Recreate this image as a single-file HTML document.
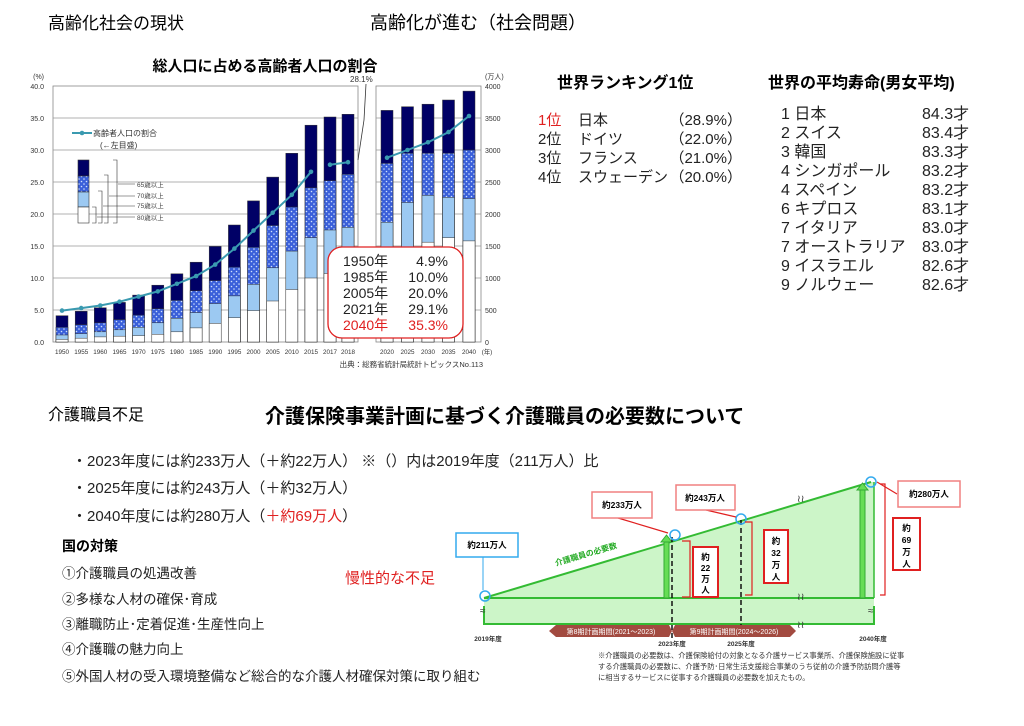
<!DOCTYPE html>
<html><head><meta charset="utf-8"><style>
body{margin:0;background:#fff}
svg{display:block}
text{font-family:"Liberation Sans","Noto Sans CJK JP",sans-serif}
</style></head><body>
<svg width="1024" height="726" viewBox="0 0 1024 726" xmlns="http://www.w3.org/2000/svg">
<defs>
<pattern id="dots" width="5" height="5" patternUnits="userSpaceOnUse"><rect width="5" height="5" fill="#3a5fd9"/><circle cx="1.5" cy="1.5" r="0.8" fill="#cfe0ff"/><circle cx="4" cy="4" r="0.8" fill="#cfe0ff"/></pattern>
</defs>
<text x="48" y="29" font-size="17">高齢化社会の現状</text>
<text x="370" y="29" font-size="18">高齢化が進む（社会問題）</text>
<text x="265" y="71" font-size="15" font-weight="bold" text-anchor="middle">総人口に占める高齢者人口の割合</text>

<g stroke="#888" stroke-width="0.8" fill="none">
<rect x="53" y="86" width="305" height="256"/>
<rect x="376" y="86" width="105" height="256"/>
</g>
<g stroke="#999" stroke-width="0.7">
<line x1="53" y1="118" x2="358" y2="118"/><line x1="376" y1="118" x2="481" y2="118"/>
<line x1="53" y1="150" x2="358" y2="150"/><line x1="376" y1="150" x2="481" y2="150"/>
<line x1="53" y1="182" x2="358" y2="182"/><line x1="376" y1="182" x2="481" y2="182"/>
<line x1="53" y1="214" x2="358" y2="214"/><line x1="376" y1="214" x2="481" y2="214"/>
<line x1="53" y1="246" x2="358" y2="246"/><line x1="376" y1="246" x2="481" y2="246"/>
<line x1="53" y1="278" x2="358" y2="278"/><line x1="376" y1="278" x2="481" y2="278"/>
<line x1="53" y1="310" x2="358" y2="310"/><line x1="376" y1="310" x2="481" y2="310"/>
</g>
<g font-size="7" fill="#333" text-anchor="end">
<text x="44" y="79">(%)</text>
<text x="44" y="89">40.0</text><text x="44" y="121">35.0</text><text x="44" y="153">30.0</text><text x="44" y="185">25.0</text><text x="44" y="217">20.0</text><text x="44" y="249">15.0</text><text x="44" y="281">10.0</text><text x="44" y="313">5.0</text><text x="44" y="345">0.0</text>
</g>
<g font-size="7" fill="#333">
<text x="485" y="79">(万人)</text>
<text x="485" y="89">4000</text><text x="485" y="121">3500</text><text x="485" y="153">3000</text><text x="485" y="185">2500</text><text x="485" y="217">2000</text><text x="485" y="249">1500</text><text x="485" y="281">1000</text><text x="485" y="313">500</text><text x="485" y="345">0</text>
</g>
<g stroke="#333" stroke-width="0.5">
<rect x="56" y="315.7" width="12" height="26.3" fill="#000066"/><rect x="56" y="327.3" width="12" height="14.7" fill="url(#dots)"/><rect x="56" y="335" width="12" height="7" fill="#9cc9f2"/><rect x="56" y="339.4" width="12" height="2.6" fill="#fff"/>
<rect x="75.2" y="311.3" width="12" height="30.7" fill="#000066"/><rect x="75.2" y="324.7" width="12" height="17.3" fill="url(#dots)"/><rect x="75.2" y="333.7" width="12" height="8.3" fill="#9cc9f2"/><rect x="75.2" y="338.2" width="12" height="3.8" fill="#fff"/>
<rect x="94.3" y="307.8" width="12" height="34.2" fill="#000066"/><rect x="94.3" y="322.8" width="12" height="19.2" fill="url(#dots)"/><rect x="94.3" y="331.8" width="12" height="10.2" fill="#9cc9f2"/><rect x="94.3" y="336.9" width="12" height="5.1" fill="#fff"/>
<rect x="113.5" y="302.4" width="12" height="39.6" fill="#000066"/><rect x="113.5" y="319.6" width="12" height="22.4" fill="url(#dots)"/><rect x="113.5" y="329.8" width="12" height="12.2" fill="#9cc9f2"/><rect x="113.5" y="336.2" width="12" height="5.8" fill="#fff"/>
<rect x="132.6" y="295.1" width="12" height="46.9" fill="#000066"/><rect x="132.6" y="315.1" width="12" height="26.9" fill="url(#dots)"/><rect x="132.6" y="327.3" width="12" height="14.7" fill="#9cc9f2"/><rect x="132.6" y="335.6" width="12" height="6.4" fill="#fff"/>
<rect x="151.8" y="285.2" width="12" height="56.8" fill="#000066"/><rect x="151.8" y="308.7" width="12" height="33.3" fill="url(#dots)"/><rect x="151.8" y="322.8" width="12" height="19.2" fill="#9cc9f2"/><rect x="151.8" y="334.3" width="12" height="7.7" fill="#fff"/>
<rect x="170.9" y="273.8" width="12" height="68.2" fill="#000066"/><rect x="170.9" y="300.4" width="12" height="41.6" fill="url(#dots)"/><rect x="170.9" y="318.3" width="12" height="23.7" fill="#9cc9f2"/><rect x="170.9" y="331.8" width="12" height="10.2" fill="#fff"/>
<rect x="190.1" y="262.2" width="12" height="79.8" fill="#000066"/><rect x="190.1" y="290.8" width="12" height="51.2" fill="url(#dots)"/><rect x="190.1" y="312.6" width="12" height="29.4" fill="#9cc9f2"/><rect x="190.1" y="327.9" width="12" height="14.1" fill="#fff"/>
<rect x="209.2" y="246.4" width="12" height="95.6" fill="#000066"/><rect x="209.2" y="280.6" width="12" height="61.4" fill="url(#dots)"/><rect x="209.2" y="303.6" width="12" height="38.4" fill="#9cc9f2"/><rect x="209.2" y="323.4" width="12" height="18.6" fill="#fff"/>
<rect x="228.4" y="225" width="12" height="117" fill="#000066"/><rect x="228.4" y="267.1" width="12" height="74.9" fill="url(#dots)"/><rect x="228.4" y="295.9" width="12" height="46.1" fill="#9cc9f2"/><rect x="228.4" y="317.7" width="12" height="24.3" fill="#fff"/>
<rect x="247.5" y="200.9" width="12" height="141.1" fill="#000066"/><rect x="247.5" y="247.3" width="12" height="94.7" fill="url(#dots)"/><rect x="247.5" y="284.4" width="12" height="57.6" fill="#9cc9f2"/><rect x="247.5" y="310.6" width="12" height="31.4" fill="#fff"/>
<rect x="266.7" y="177.1" width="12" height="164.9" fill="#000066"/><rect x="266.7" y="225.5" width="12" height="116.5" fill="url(#dots)"/><rect x="266.7" y="267.8" width="12" height="74.2" fill="#9cc9f2"/><rect x="266.7" y="301" width="12" height="41" fill="#fff"/>
<rect x="285.8" y="153.3" width="12" height="188.7" fill="#000066"/><rect x="285.8" y="207" width="12" height="135" fill="url(#dots)"/><rect x="285.8" y="251.1" width="12" height="90.9" fill="#9cc9f2"/><rect x="285.8" y="289.5" width="12" height="52.5" fill="#fff"/>
<rect x="305" y="125.2" width="12" height="216.8" fill="#000066"/><rect x="305" y="187.8" width="12" height="154.2" fill="url(#dots)"/><rect x="305" y="237.7" width="12" height="104.3" fill="#9cc9f2"/><rect x="305" y="278" width="12" height="64" fill="#fff"/>
<rect x="324" y="117" width="12" height="225" fill="#000066"/><rect x="324" y="180.7" width="12" height="161.3" fill="url(#dots)"/><rect x="324" y="230" width="12" height="112" fill="#9cc9f2"/><rect x="324" y="273.5" width="12" height="68.5" fill="#fff"/>
<rect x="342" y="114.3" width="12" height="227.7" fill="#000066"/><rect x="342" y="174.3" width="12" height="167.7" fill="url(#dots)"/><rect x="342" y="227.4" width="12" height="114.6" fill="#9cc9f2"/><rect x="342" y="271.6" width="12" height="70.4" fill="#fff"/>
<rect x="381" y="110.4" width="12" height="231.6" fill="#000066"/><rect x="381" y="163.4" width="12" height="178.6" fill="url(#dots)"/><rect x="381" y="222.3" width="12" height="119.7" fill="#9cc9f2"/><rect x="381" y="267.8" width="12" height="74.2" fill="#fff"/>
<rect x="401.5" y="106.7" width="12" height="235.3" fill="#000066"/><rect x="401.5" y="153.2" width="12" height="188.8" fill="url(#dots)"/><rect x="401.5" y="202.5" width="12" height="139.5" fill="#9cc9f2"/><rect x="401.5" y="258.8" width="12" height="83.2" fill="#fff"/>
<rect x="422" y="104.2" width="12" height="237.8" fill="#000066"/><rect x="422" y="153.2" width="12" height="188.8" fill="url(#dots)"/><rect x="422" y="195.4" width="12" height="146.6" fill="#9cc9f2"/><rect x="422" y="242.2" width="12" height="99.8" fill="#fff"/>
<rect x="442.5" y="100" width="12" height="242" fill="#000066"/><rect x="442.5" y="153.2" width="12" height="188.8" fill="url(#dots)"/><rect x="442.5" y="197.4" width="12" height="144.6" fill="#9cc9f2"/><rect x="442.5" y="237.7" width="12" height="104.3" fill="#fff"/>
<rect x="463" y="91.1" width="12" height="250.9" fill="#000066"/><rect x="463" y="150" width="12" height="192" fill="url(#dots)"/><rect x="463" y="198.6" width="12" height="143.4" fill="#9cc9f2"/><rect x="463" y="240.9" width="12" height="101.1" fill="#fff"/>
</g>
<g stroke="#3a9ab0" stroke-width="2" fill="none">
<polyline points="62,310.6 81.2,308.1 100.3,305.5 119.5,301.7 138.6,296.6 157.8,291.4 176.9,283.8 196.1,276.1 215.2,264.6 234.4,248.6 253.5,230.6 272.7,212.7 291.8,194.8 311,171.8"/>
<polyline points="330,164.7 348,162.2"/>
<polyline points="387,157.7 407.5,150 428,142.3 448.5,132.1 469,116"/>
</g>
<g fill="#3a9ab0">
<circle cx="62" cy="310.6" r="2.3"/><circle cx="81.2" cy="308.1" r="2.3"/><circle cx="100.3" cy="305.5" r="2.3"/><circle cx="119.5" cy="301.7" r="2.3"/><circle cx="138.6" cy="296.6" r="2.3"/><circle cx="157.8" cy="291.4" r="2.3"/><circle cx="176.9" cy="283.8" r="2.3"/><circle cx="196.1" cy="276.1" r="2.3"/><circle cx="215.2" cy="264.6" r="2.3"/><circle cx="234.4" cy="248.6" r="2.3"/><circle cx="253.5" cy="230.6" r="2.3"/><circle cx="272.7" cy="212.7" r="2.3"/><circle cx="291.8" cy="194.8" r="2.3"/><circle cx="311" cy="171.8" r="2.3"/><circle cx="330" cy="164.7" r="2.3"/><circle cx="348" cy="162.2" r="2.3"/><circle cx="387" cy="157.7" r="2.3"/><circle cx="407.5" cy="150" r="2.3"/><circle cx="428" cy="142.3" r="2.3"/><circle cx="448.5" cy="132.1" r="2.3"/><circle cx="469" cy="116" r="2.3"/>
</g>
<text x="350" y="82" font-size="8" fill="#333">28.1%</text>
<polyline points="366,84 364,120 358,160" stroke="#333" stroke-width="0.8" fill="none"/>
<line x1="72" y1="133" x2="92" y2="133" stroke="#3a9ab0" stroke-width="2"/><circle cx="82" cy="133" r="2.3" fill="#3a9ab0"/>
<text x="93" y="136" font-size="8" fill="#333">高齢者人口の割合</text>
<text x="100" y="148" font-size="8" fill="#333">(←左目盛)</text>
<g stroke="#333" stroke-width="0.6">
<rect x="78" y="160" width="11" height="16" fill="#000066"/><rect x="78" y="176" width="11" height="16" fill="url(#dots)"/><rect x="78" y="192" width="11" height="15" fill="#9cc9f2"/><rect x="78" y="207" width="11" height="16" fill="#fff"/>
<polyline points="113,160 117,160 117,223 113,223" fill="none"/>
<polyline points="104,175 108,175 108,223 104,223" fill="none"/>
<polyline points="98,191 102,191 102,223 98,223" fill="none"/>
<polyline points="92,207 96,207 96,223 92,223" fill="none"/>
<line x1="118" y1="184" x2="135" y2="184"/><line x1="109" y1="196" x2="135" y2="196"/><line x1="103" y1="206" x2="135" y2="206"/><line x1="97" y1="217" x2="135" y2="217"/>
</g>
<g font-size="6.5" fill="#444"><text x="137" y="187">65歳以上</text><text x="137" y="198">70歳以上</text><text x="137" y="208">75歳以上</text><text x="137" y="220">80歳以上</text></g>
<g font-size="6.3" fill="#333" text-anchor="middle">
<text x="62" y="354">1950</text><text x="81.2" y="354">1955</text><text x="100.3" y="354">1960</text><text x="119.5" y="354">1965</text><text x="138.6" y="354">1970</text><text x="157.8" y="354">1975</text><text x="176.9" y="354">1980</text><text x="196.1" y="354">1985</text><text x="215.2" y="354">1990</text><text x="234.4" y="354">1995</text><text x="253.5" y="354">2000</text><text x="272.7" y="354">2005</text><text x="291.8" y="354">2010</text><text x="311" y="354">2015</text><text x="330" y="354">2017</text><text x="348" y="354">2018</text>
<text x="387" y="354">2020</text><text x="407.5" y="354">2025</text><text x="428" y="354">2030</text><text x="448.5" y="354">2035</text><text x="469" y="354">2040</text><text x="487" y="354">(年)</text>
</g>
<text x="483" y="367" font-size="7.5" fill="#333" text-anchor="end">出典：総務省統計局統計トピックスNo.113</text>
<rect x="328" y="247" width="135" height="91" rx="14" fill="#fff" stroke="#e02020" stroke-width="1.3"/>
<g font-size="14" fill="#222">
<text x="343" y="266">1950年</text><text x="448" y="266" text-anchor="end">4.9%</text>
<text x="343" y="282">1985年</text><text x="448" y="282" text-anchor="end">10.0%</text>
<text x="343" y="298">2005年</text><text x="448" y="298" text-anchor="end">20.0%</text>
<text x="343" y="314">2021年</text><text x="448" y="314" text-anchor="end">29.1%</text>
<text x="343" y="330" fill="#e02020">2040年</text><text x="448" y="330" text-anchor="end" fill="#e02020">35.3%</text>
</g>

<text x="557" y="88" font-size="16" font-weight="bold">世界ランキング1位</text>
<g font-size="15" fill="#222">
<text x="538" y="125" fill="#e02020">1位</text><text x="578" y="125">日本</text><text x="742" y="125" text-anchor="end">（28.9%）</text>
<text x="538" y="144">2位</text><text x="578" y="144">ドイツ</text><text x="742" y="144" text-anchor="end">（22.0%）</text>
<text x="538" y="163">3位</text><text x="578" y="163">フランス</text><text x="742" y="163" text-anchor="end">（21.0%）</text>
<text x="538" y="182">4位</text><text x="578" y="182">スウェーデン</text><text x="742" y="182" text-anchor="end">（20.0%）</text>
</g>
<text x="768" y="88" font-size="16" font-weight="bold">世界の平均寿命(男女平均)</text>
<g font-size="16" fill="#222">
<text x="781" y="119">1 日本</text><text x="922" y="119">84.3才</text>
<text x="781" y="138">2 スイス</text><text x="922" y="138">83.4才</text>
<text x="781" y="157">3 韓国</text><text x="922" y="157">83.3才</text>
<text x="781" y="176">4 シンガポール</text><text x="922" y="176">83.2才</text>
<text x="781" y="195">4 スペイン</text><text x="922" y="195">83.2才</text>
<text x="781" y="214">6 キプロス</text><text x="922" y="214">83.1才</text>
<text x="781" y="233">7 イタリア</text><text x="922" y="233">83.0才</text>
<text x="781" y="252">7 オーストラリア</text><text x="922" y="252">83.0才</text>
<text x="781" y="271">9 イスラエル</text><text x="922" y="271">82.6才</text>
<text x="781" y="290">9 ノルウェー</text><text x="922" y="290">82.6才</text>
</g>

<text x="48" y="420" font-size="16">介護職員不足</text>
<text x="265" y="423" font-size="20" font-weight="bold">介護保険事業計画に基づく介護職員の必要数について</text>
<g font-size="15" fill="#222">
<text x="72" y="466">・2023年度には約233万人（＋約22万人） ※（）内は2019年度（211万人）比</text>
<text x="72" y="493">・2025年度には約243万人（＋約32万人）</text>
<text x="72" y="521">・2040年度には約280万人（<tspan fill="#e02020">＋約69万人</tspan>）</text>
</g>
<text x="62" y="551" font-size="14" font-weight="bold">国の対策</text>
<g font-size="13.5" fill="#222">
<text x="62" y="578">①介護職員の処遇改善</text>
<text x="62" y="604">②多様な人材の確保･育成</text>
<text x="62" y="629">③離職防止･定着促進･生産性向上</text>
<text x="62" y="654">④介護職の魅力向上</text>
<text x="62" y="681">⑤外国人材の受入環境整備など総合的な介護人材確保対策に取り組む</text>
</g>
<text x="345" y="583" font-size="15" fill="#e02020">慢性的な不足</text>

<polygon points="484,598 871,482 874,482 874,624 484,624" fill="#ccf5c8" stroke="none"/>
<polyline points="484,598 871,482" stroke="#33bb33" stroke-width="2" fill="none"/>
<line x1="484" y1="598" x2="874" y2="598" stroke="#33bb33" stroke-width="2"/>
<polyline points="484,606 484,624 874,624 874,606" stroke="#33bb33" stroke-width="2" fill="none"/>
<line x1="874" y1="482" x2="874" y2="598" stroke="#33bb33" stroke-width="1.5"/>
<rect x="664" y="541" width="5" height="57" fill="#66dd55" stroke="#33aa33"/><polygon points="661,542 666.5,535 672,542" fill="#66dd55" stroke="#33aa33"/>
<rect x="860" y="489" width="5" height="109" fill="#66dd55" stroke="#33aa33"/><polygon points="857,490 862.5,483 868,490" fill="#66dd55" stroke="#33aa33"/>
<text transform="translate(556,566) rotate(-16.5)" font-size="8" fill="#22aa22" font-weight="bold">介護職員の必要数</text>
<g stroke="#111" stroke-width="1.5" stroke-dasharray="5,3"><line x1="672" y1="537" x2="672" y2="640"/><line x1="741" y1="520" x2="741" y2="628"/></g>
<g fill="none" stroke="#33aaee" stroke-width="1.5"><circle cx="485" cy="596" r="5"/><circle cx="675" cy="535" r="5"/><circle cx="741" cy="519" r="5"/><circle cx="871" cy="482" r="5"/></g>
<line x1="483" y1="556" x2="483" y2="590" stroke="#33aaee"/>
<g stroke="#e02020" stroke-width="1.2" fill="none">
<line x1="618" y1="518" x2="668" y2="533"/><line x1="706" y1="510" x2="736" y2="517"/><line x1="897" y1="494" x2="877" y2="482"/>
<polyline points="682,541 690,541 690,597 682,597"/><polyline points="745,522 752,522 752,595 745,595"/><polyline points="880,484 885,484 885,595 880,595"/>
</g>
<g font-size="8.5" font-weight="bold" text-anchor="middle">
<rect x="456" y="533" width="62" height="24" fill="#fff" stroke="#33aaee" stroke-width="1.5"/><text x="487" y="548">約211万人</text>
<rect x="592" y="492" width="60" height="26" fill="#fff" stroke="#f08080" stroke-width="1.5"/><text x="622" y="508">約233万人</text>
<rect x="676" y="485" width="59" height="25" fill="#fff" stroke="#f08080" stroke-width="1.5"/><text x="705" y="501">約243万人</text>
<rect x="898" y="481" width="62" height="26" fill="#fff" stroke="#f08080" stroke-width="1.5"/><text x="929" y="497">約280万人</text>
<rect x="693" y="547" width="25" height="50" fill="#fff" stroke="#e02020" stroke-width="2"/><text x="705.5" y="560">約</text><text x="705.5" y="571">22</text><text x="705.5" y="582">万</text><text x="705.5" y="593">人</text>
<rect x="764" y="530" width="24" height="53" fill="#fff" stroke="#e02020" stroke-width="2"/><text x="776" y="544">約</text><text x="776" y="556">32</text><text x="776" y="568">万</text><text x="776" y="580">人</text>
<rect x="893" y="518" width="27" height="52" fill="#fff" stroke="#e02020" stroke-width="2"/><text x="906.5" y="531">約</text><text x="906.5" y="543">69</text><text x="906.5" y="555">万</text><text x="906.5" y="567">人</text>
</g>
<g font-size="10" fill="#333"><text x="480" y="614">≈</text><text x="868" y="614">≈</text><text x="797" y="502">≀≀</text><text x="797" y="600">≀≀</text><text x="797" y="628">≀≀</text></g>
<polygon points="549,631 556,625 669,625 672,631 669,637 556,637" fill="#a24a40"/>
<polygon points="672,631 675,625 790,625 796,631 790,637 675,637" fill="#a24a40"/>
<g font-size="7" fill="#fff" text-anchor="middle"><text x="611" y="634">第8期計画期間(2021～2023)</text><text x="734" y="634">第9期計画期間(2024～2026)</text></g>
<g font-size="6.5" fill="#333" font-weight="bold" text-anchor="middle"><text x="488" y="641">2019年度</text><text x="672" y="646">2023年度</text><text x="741" y="646">2025年度</text><text x="873" y="641">2040年度</text></g>
<g font-size="7.3" fill="#333">
<text x="598" y="658">※介護職員の必要数は、介護保険給付の対象となる介護サービス事業所、介護保険施設に従事</text>
<text x="598" y="669">する介護職員の必要数に、介護予防･日常生活支援総合事業のうち従前の介護予防訪問介護等</text>
<text x="598" y="680">に相当するサービスに従事する介護職員の必要数を加えたもの。</text>
</g>
</svg>
</body></html>
